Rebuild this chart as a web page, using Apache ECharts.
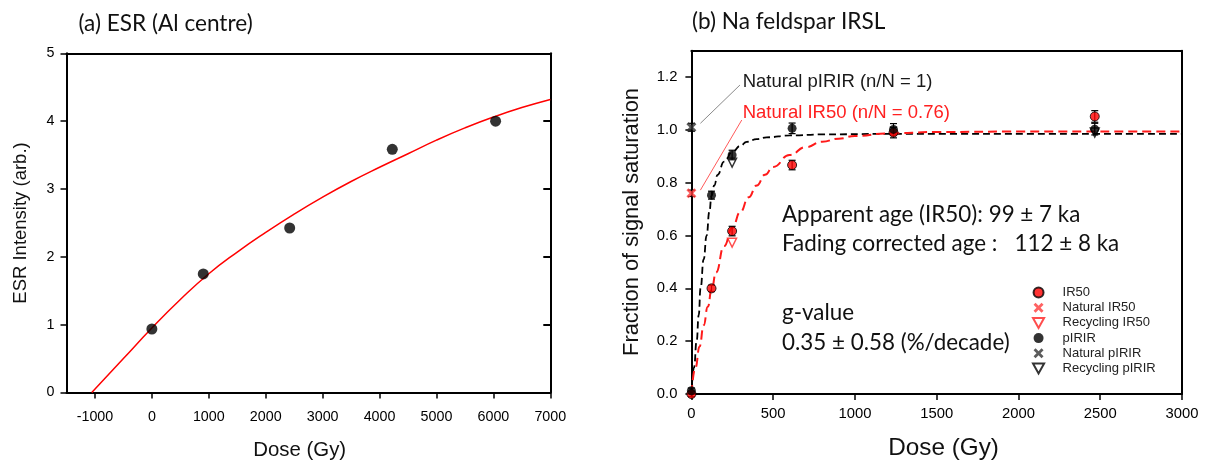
<!DOCTYPE html>
<html>
<head>
<meta charset="utf-8">
<script src="https://cdn.jsdelivr.net/npm/echarts@6/dist/echarts.min.js"></script>
<style>
html,body{margin:0;padding:0;background:#fff;}
#c{width:1207px;height:461px;}
</style>
</head>
<body>
<div id="c"></div>
<script>
// ---------- Panel (a): ESR (Al centre) ----------
const esrDose = [0, 903, 2421, 4224, 6039];
const esrIntensity = [0.936, 1.747, 2.425, 3.585, 4.00];
const esrFitDose = [-1056, -500, 0, 500, 1000, 1500, 2000, 2500, 3000, 3500, 4000, 4500, 5000, 5500, 6000, 6500, 7000];
const esrFitIntensity = [0, 0.50, 0.95, 1.37, 1.75, 2.07, 2.36, 2.63, 2.88, 3.11, 3.32, 3.52, 3.72, 3.90, 4.06, 4.20, 4.32];
const esrXTicks = [-1000, 0, 1000, 2000, 3000, 4000, 5000, 6000, 7000];

// ---------- Panel (b): Na feldspar IRSL ----------
const regenDose = [0, 123, 249, 616, 1236, 2467];
const ir50Value = [0.00, 0.40, 0.617, 0.867, 0.99, 1.051];
const ir50Err = [0.01, 0.012, 0.018, 0.018, 0.02, 0.022];
const pirirValue = [0.0125, 0.753, 0.905, 1.006, 1.002, 1.003];
const pirirErr = [0.01, 0.015, 0.018, 0.02, 0.022, 0.022];
const naturalIr50 = [[0, 0.76, 0.012]];
const naturalPirir = [[0, 1.01, 0.015]];
const recyclingIr50 = [[249, 0.573]];
const recyclingPirir = [[249, 0.876], [2467, 0.99]];
const ir50FitDose = [0, 25, 50, 75, 100, 125, 150, 200, 250, 300, 350, 400, 450, 500, 600, 700, 800, 900, 1000, 1200, 1500, 2000, 3000];
const ir50FitValue = [0, 0.10, 0.18, 0.26, 0.33, 0.40, 0.46, 0.56, 0.63, 0.69, 0.745, 0.79, 0.83, 0.86, 0.905, 0.935, 0.955, 0.967, 0.977, 0.987, 0.992, 0.994, 0.994];
const pirirFitDose = [0, 16, 32, 45, 56, 75, 93, 110, 123, 140, 160, 200, 249, 300, 338, 400, 460, 603, 800, 1200, 3000];
const pirirFitValue = [0, 0.10, 0.20, 0.30, 0.40, 0.51, 0.60, 0.69, 0.75, 0.79, 0.83, 0.88, 0.915, 0.94, 0.955, 0.965, 0.972, 0.979, 0.983, 0.985, 0.985];
const irslYTicks = [0, 0.2, 0.4, 0.6, 0.8, 1.0, 1.2];

const zip = (a, b) => a.map((v, i) => [v, b[i]]);
const zip3 = (a, b, c) => a.map((v, i) => [v, b[i], c[i]]);

const AX = '#000';
const TICKFONT = 'Liberation Sans';
const X_SHAPE = 'path://M2,0 L5,3 L8,0 L10,2 L7,5 L10,8 L8,10 L5,7 L2,10 L0,8 L3,5 L0,2 Z';
const TRI_DOWN = 'path://M0,0 L10,0 L5,9 Z';

function errorBarSeries(data, xi, yi) {
  return {
    type: 'custom', xAxisIndex: xi, yAxisIndex: yi, silent: true, z: 4,
    data: data,
    renderItem: function (params, api) {
      const x = api.value(0), y = api.value(1), e = api.value(2);
      const lo = api.coord([x, y - e]);
      const hi = api.coord([x, y + e]);
      const w = 3.5;
      const st = { stroke: '#000', lineWidth: 1.2 };
      return {
        type: 'group',
        children: [
          { type: 'line', shape: { x1: lo[0], y1: lo[1], x2: hi[0], y2: hi[1] }, style: st },
          { type: 'line', shape: { x1: lo[0] - w, y1: lo[1], x2: lo[0] + w, y2: lo[1] }, style: st },
          { type: 'line', shape: { x1: hi[0] - w, y1: hi[1], x2: hi[0] + w, y2: hi[1] }, style: st }
        ]
      };
    }
  };
}

const boxLine = { show: true, onZero: false, lineStyle: { color: AX, width: 2 } };
const plain = v => String(v);

const option = {
  animation: false,
  backgroundColor: '#fff',
  grid: [
    { left: 66.5, top: 53.3, width: 483.8, height: 339.2 },
    { left: 691.4, top: 50.7, width: 490.5, height: 343.3 }
  ],
  xAxis: [
    {
      gridIndex: 0, type: 'value', position: 'bottom', min: -1500, max: 7000,
      axisLine: boxLine,
      axisTick: { show: true, customValues: esrXTicks, length: 6, lineStyle: { color: AX, width: 1.5 } },
      axisLabel: { customValues: esrXTicks, margin: 18, fontFamily: TICKFONT, fontSize: 14.3, color: '#000', formatter: plain },
      splitLine: { show: false }
    },
    {
      gridIndex: 0, type: 'value', position: 'top', min: -1500, max: 7000,
      axisLine: boxLine, axisTick: { show: false }, axisLabel: { show: false }, splitLine: { show: false }
    },
    {
      gridIndex: 1, type: 'value', position: 'bottom', min: 0, max: 3000, interval: 500,
      axisLine: boxLine,
      axisTick: { show: true, length: 6, lineStyle: { color: AX, width: 1.5 } },
      axisLabel: { margin: 12, fontFamily: TICKFONT, fontSize: 14.8, color: '#000', formatter: plain },
      splitLine: { show: false }
    },
    {
      gridIndex: 1, type: 'value', position: 'top', min: 0, max: 3000,
      axisLine: boxLine, axisTick: { show: false }, axisLabel: { show: false }, splitLine: { show: false }
    }
  ],
  yAxis: [
    {
      gridIndex: 0, type: 'value', position: 'left', min: 0, max: 5, interval: 1,
      axisLine: boxLine,
      axisTick: { show: true, length: 6, lineStyle: { color: AX, width: 1.5 } },
      axisLabel: { margin: 12, fontFamily: TICKFONT, fontSize: 14.3, color: '#000', formatter: plain },
      splitLine: { show: false }
    },
    {
      gridIndex: 0, type: 'value', position: 'right', min: 0, max: 5, interval: 1,
      axisLine: boxLine,
      axisTick: { show: true, inside: true, length: 7, lineStyle: { color: AX, width: 2 } },
      axisLabel: { show: false }, splitLine: { show: false }
    },
    {
      gridIndex: 1, type: 'value', position: 'left', min: 0, max: 1.3,
      axisLine: boxLine,
      axisTick: { show: true, customValues: irslYTicks, length: 6, lineStyle: { color: AX, width: 1.5 } },
      axisLabel: {
        customValues: irslYTicks, margin: 14, fontFamily: TICKFONT, fontSize: 14.8, color: '#000',
        formatter: v => Number(v).toFixed(1)
      },
      splitLine: { show: false }
    },
    {
      gridIndex: 1, type: 'value', position: 'right', min: 0, max: 1.3,
      axisLine: boxLine, axisTick: { show: false }, axisLabel: { show: false }, splitLine: { show: false }
    }
  ],
  legend: {
    orient: 'vertical', left: 1027, top: 281,
    itemWidth: 24, itemHeight: 10, itemGap: 2.2,
    selectedMode: false,
    textStyle: { fontFamily: TICKFONT, fontSize: 13, color: '#222', padding: [0, 0, 0, 7] },
    data: ['IR50', 'Natural IR50', 'Recycling IR50', 'pIRIR', 'Natural pIRIR', 'Recycling pIRIR']
  },
  series: [
    // panel (a)
    {
      type: 'line', xAxisIndex: 0, yAxisIndex: 0, data: zip(esrFitDose, esrFitIntensity),
      smooth: 0.5, showSymbol: false, silent: true,
      lineStyle: { color: '#ff0000', width: 1.5 }, z: 2
    },
    {
      type: 'scatter', xAxisIndex: 0, yAxisIndex: 0, data: zip(esrDose, esrIntensity),
      symbol: 'circle', symbolSize: 11, itemStyle: { color: '#000' }, z: 5
    },
    // panel (b) fits
    {
      type: 'line', xAxisIndex: 2, yAxisIndex: 2, data: zip(pirirFitDose, pirirFitValue),
      smooth: true, smoothMonotone: 'x', showSymbol: false, silent: true,
      lineStyle: { color: '#000', width: 1.8, type: [7, 4] }, z: 2,
      markLine: {
        silent: true, symbol: ['none', 'arrow'], symbolSize: [0, 7], label: { show: false },
        lineStyle: { color: '#8a8a8a', width: 1, type: 'solid' },
        data: [[{ coord: [297, 1.17] }, { coord: [55, 1.025] }]]
      }
    },
    {
      type: 'line', xAxisIndex: 2, yAxisIndex: 2, data: zip(ir50FitDose, ir50FitValue),
      smooth: true, smoothMonotone: 'x', showSymbol: false, silent: true,
      lineStyle: { color: '#ff1a1a', width: 2, type: [9, 5] }, z: 3,
      markLine: {
        silent: true, symbol: ['none', 'arrow'], symbolSize: [0, 7], label: { show: false },
        lineStyle: { color: '#ff5a5a', width: 1, type: 'solid' },
        data: [[{ coord: [308, 1.0375] }, { coord: [55, 0.772] }]]
      }
    },
    errorBarSeries(zip3(regenDose, ir50Value, ir50Err), 2, 2),
    errorBarSeries(zip3(regenDose, pirirValue, pirirErr), 2, 2),
    errorBarSeries(naturalIr50, 2, 2),
    errorBarSeries(naturalPirir, 2, 2),
    {
      name: 'IR50', type: 'scatter', xAxisIndex: 2, yAxisIndex: 2, data: zip(regenDose, ir50Value),
      symbol: 'circle', symbolSize: 9, itemStyle: { color: '#ff0000', borderColor: '#000', borderWidth: 1 }, z: 6
    },
    {
      name: 'Natural IR50', type: 'scatter', xAxisIndex: 2, yAxisIndex: 2, data: naturalIr50.map(d => [d[0], d[1]]),
      symbol: X_SHAPE, symbolSize: 10, itemStyle: { color: '#ff3b3b' }, z: 6
    },
    {
      name: 'Recycling IR50', type: 'scatter', xAxisIndex: 2, yAxisIndex: 2, data: recyclingIr50,
      symbol: TRI_DOWN, symbolSize: 9, itemStyle: { color: 'rgba(255,255,255,0)', borderColor: '#ff2020', borderWidth: 1.4 }, z: 6
    },
    {
      name: 'pIRIR', type: 'scatter', xAxisIndex: 2, yAxisIndex: 2, data: zip(regenDose, pirirValue),
      symbol: 'circle', symbolSize: 9, itemStyle: { color: '#000' }, z: 7
    },
    {
      name: 'Natural pIRIR', type: 'scatter', xAxisIndex: 2, yAxisIndex: 2, data: naturalPirir.map(d => [d[0], d[1]]),
      symbol: X_SHAPE, symbolSize: 10, itemStyle: { color: '#333' }, z: 7
    },
    {
      name: 'Recycling pIRIR', type: 'scatter', xAxisIndex: 2, yAxisIndex: 2, data: recyclingPirir,
      symbol: TRI_DOWN, symbolSize: 9, itemStyle: { color: 'rgba(255,255,255,0)', borderColor: '#000', borderWidth: 1.4 }, z: 7
    }
  ],
  graphic: [
    { type: 'text', x: 78.5, y: 23.3, style: { text: '(a) ESR (Al centre)', font: '22.6px Lato', fill: '#111', textVerticalAlign: 'middle' } },
    { type: 'text', x: 692, y: 21.7, style: { text: '(b) Na feldspar IRSL', font: '22.6px Lato', fill: '#111', textVerticalAlign: 'middle' } },
    { type: 'text', x: 21, y: 223, rotation: Math.PI / 2, style: { text: 'ESR Intensity (arb.)', font: '18.5px "Liberation Sans"', fill: '#111', textAlign: 'center', textVerticalAlign: 'middle' } },
    { type: 'text', x: 631.7, y: 222, rotation: Math.PI / 2, style: { text: 'Fraction of signal saturation', font: '21.8px "Liberation Sans"', fill: '#111', textAlign: 'center', textVerticalAlign: 'middle' } },
    { type: 'text', x: 299.7, y: 450.7, style: { text: 'Dose (Gy)', font: '20.4px "Liberation Sans"', fill: '#111', textAlign: 'center', textVerticalAlign: 'middle' } },
    { type: 'text', x: 943.6, y: 448, style: { text: 'Dose (Gy)', font: '24.3px "Liberation Sans"', fill: '#111', textAlign: 'center', textVerticalAlign: 'middle' } },
    { type: 'text', x: 742.7, y: 81.7, style: { text: 'Natural pIRIR (n/N = 1)', font: '18.5px "Liberation Sans"', fill: '#1a1a1a', textVerticalAlign: 'middle' } },
    { type: 'text', x: 742.7, y: 112.7, style: { text: 'Natural IR50 (n/N = 0.76)', font: '18.5px "Liberation Sans"', fill: '#ff2020', textVerticalAlign: 'middle' } },
    { type: 'text', x: 782, y: 215, style: { text: 'Apparent age (IR50): 99 \u00b1 7 ka', font: '22.4px Lato', fill: '#111', textVerticalAlign: 'middle' } },
    { type: 'text', x: 782, y: 244, style: { text: 'Fading corrected age :   112 \u00b1 8 ka', font: '22.4px Lato', fill: '#111', textVerticalAlign: 'middle' } },
    { type: 'text', x: 782, y: 313, style: { text: 'g-value', font: '22.4px Lato', fill: '#111', textVerticalAlign: 'middle' } },
    { type: 'text', x: 782, y: 343, style: { text: '0.35 \u00b1 0.58 (%/decade)', font: '22.4px Lato', fill: '#111', textVerticalAlign: 'middle' } }
  ]
};

const chart = echarts.init(document.getElementById('c'), null, { renderer: 'canvas' });
chart.setOption(option);
</script>
</body>
</html>
